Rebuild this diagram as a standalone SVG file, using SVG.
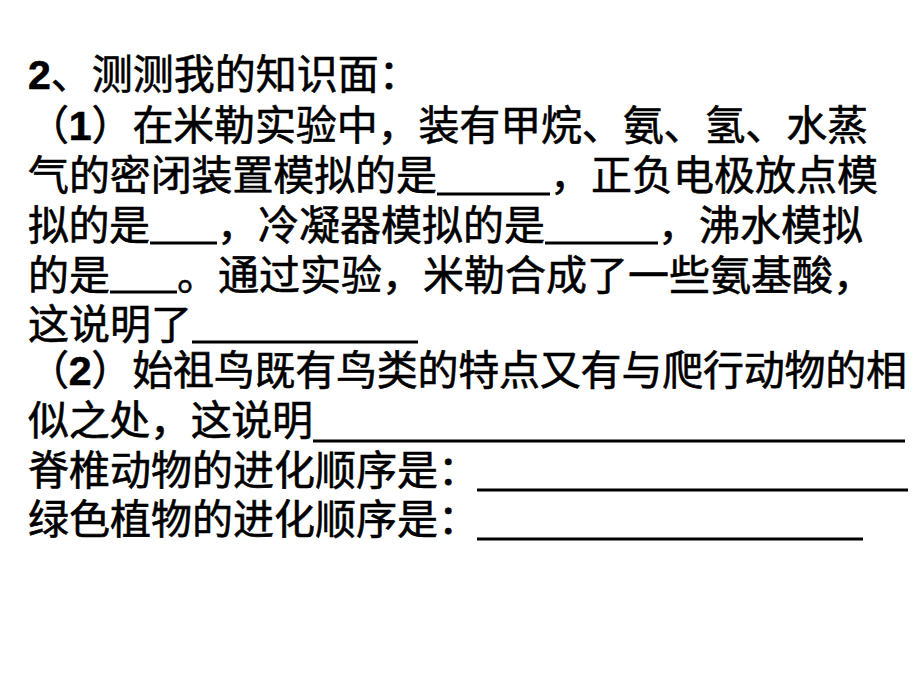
<svg xmlns="http://www.w3.org/2000/svg" width="920" height="690" viewBox="0 0 920 690">
  <style>
    .t { font-family: "Noto Sans CJK SC", "Noto Sans", sans-serif; font-size: 41px; font-weight: normal; fill: #000; stroke: #000; stroke-width: 0.6; }
    .n { font-family: "Liberation Sans", Arial, sans-serif; font-weight: bold; }
    .u { stroke: #000; stroke-width: 3; }
  </style>
  <rect width="920" height="690" fill="#fff"/>
  <g id="text">
    <text class="t" x="28" y="89"><tspan class="n">2</tspan>、测测我的知识面：</text>
    <text class="t" x="28" y="140" textLength="840" lengthAdjust="spacing">（<tspan class="n">1</tspan>）在米勒实验中，装有甲烷、氨、氢、水蒸</text>
    <text class="t" x="28" y="190" textLength="409" lengthAdjust="spacing">气的密闭装置模拟的是</text>
    <text class="t" x="550" y="190" textLength="328" lengthAdjust="spacing">，正负电极放点模</text>
    <text class="t" x="28" y="240" textLength="122" lengthAdjust="spacing">拟的是</text>
    <text class="t" x="217" y="240" textLength="328" lengthAdjust="spacing">，冷凝器模拟的是</text>
    <text class="t" x="658" y="240">，沸水模拟</text>
    <text class="t" x="28" y="290" textLength="82" lengthAdjust="spacing">的是</text>
    <text class="t" x="177" y="290" textLength="697" lengthAdjust="spacing">。通过实验，米勒合成了一些氨基酸，</text>
    <text class="t" x="28" y="339" textLength="164" lengthAdjust="spacing">这说明了</text>
    <text class="t" x="28" y="385" textLength="879" lengthAdjust="spacing">（<tspan class="n">2</tspan>）始祖鸟既有鸟类的特点又有与爬行动物的相</text>
    <text class="t" x="28" y="435" textLength="285" lengthAdjust="spacing">似之处，这说明</text>
    <text class="t" x="28" y="485" textLength="451" lengthAdjust="spacing">脊椎动物的进化顺序是：</text>
    <text class="t" x="28" y="534" textLength="451" lengthAdjust="spacing">绿色植物的进化顺序是：</text>
  </g>
  <g id="blanks">
    <line class="u" x1="437" y1="194" x2="550" y2="194"/>
    <line class="u" x1="150" y1="243" x2="217" y2="243"/>
    <line class="u" x1="545" y1="243" x2="658" y2="243"/>
    <line class="u" x1="110" y1="292" x2="177" y2="292"/>
    <line class="u" x1="192" y1="342" x2="418" y2="342"/>
    <line class="u" x1="313" y1="441" x2="905" y2="441"/>
    <line class="u" x1="477" y1="490" x2="908" y2="490"/>
    <line class="u" x1="477" y1="539" x2="863" y2="539"/>
  </g>
</svg>
